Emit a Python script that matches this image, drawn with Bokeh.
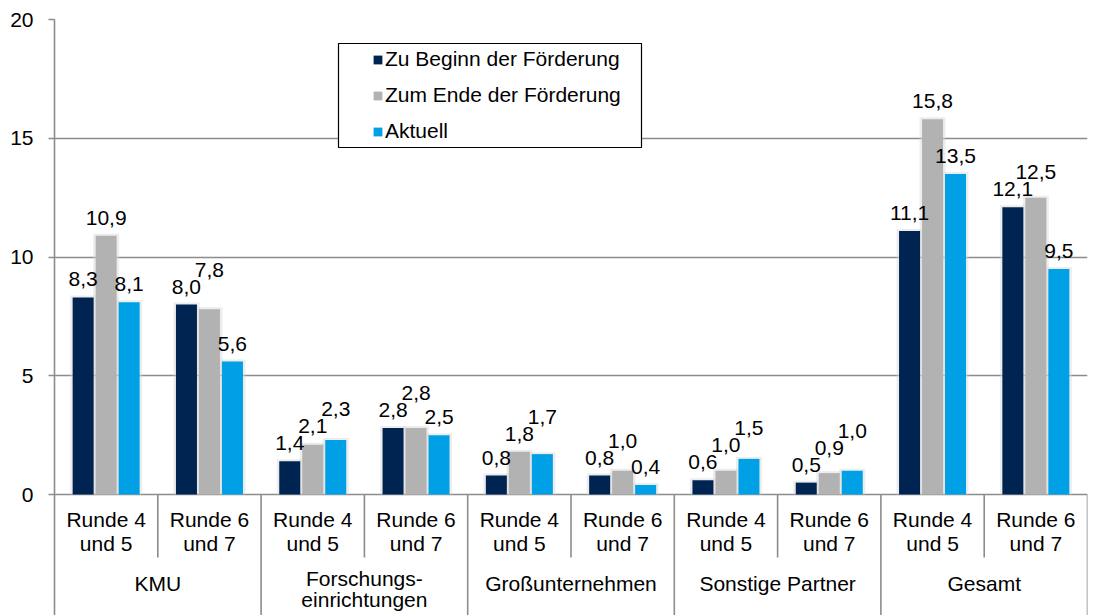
from bokeh.plotting import figure
from bokeh.models import Range1d, FixedTicker, Legend, LegendItem, BoxAnnotation
from bokeh.embed import file_html
from bokeh.resources import INLINE
from bokeh.core.properties import value

# ---------------- data ----------------
groups = ["KMU", "Forschungs-\neinrichtungen", "Großunternehmen", "Sonstige Partner", "Gesamt"]
rounds = ["Runde 4\nund 5", "Runde 6\nund 7"]
series = ["Zu Beginn der Förderung", "Zum Ende der Förderung", "Aktuell"]
beginn = [8.3, 8.0, 1.4, 2.8, 0.8, 0.8, 0.6, 0.5, 11.1, 12.1]
ende = [10.9, 7.8, 2.1, 2.8, 1.8, 1.0, 1.0, 0.9, 15.8, 12.5]
aktuell = [8.1, 5.6, 2.3, 2.5, 1.7, 0.4, 1.5, 1.0, 13.5, 9.5]
y_ticks = [0, 5, 10, 15, 20]

# ---------------- styling ----------------
colors = ["#002452", "#b2b2b2", "#00a0e6"]
GRID = "#8c8c8c"
FONT = "Liberation Sans"
FS = "21px"

W, H = 1093, 615
BL, BR, BT, BB = 54, 6, 19, 0
FW = W - BL - BR
FH = H - BT - BB
PXY = 23.75
n = len(groups) * len(rounds)
PXX = FW / n
y_start = y_ticks[-1] - FH / PXY


def dx(px):
    return px / PXX


def dy(px):
    return px / PXY


p = figure(width=W, height=H, x_range=Range1d(0, n), y_range=Range1d(y_start, y_ticks[-1]),
           output_backend="svg", toolbar_location=None, x_axis_location=None,
           min_border_left=BL, min_border_right=BR, min_border_top=BT, min_border_bottom=BB)
p.outline_line_color = None
p.background_fill_color = "white"
p.border_fill_color = "white"

# grid
p.xgrid.grid_line_color = None
p.ygrid.ticker = FixedTicker(ticks=y_ticks)
p.ygrid.grid_line_color = GRID
p.ygrid.grid_line_width = 1.6

# y axis
p.yaxis.ticker = FixedTicker(ticks=y_ticks)
p.yaxis.axis_line_color = GRID
p.yaxis.axis_line_width = 1.6
p.yaxis.major_tick_line_color = GRID
p.yaxis.major_tick_line_width = 1.6
p.yaxis.major_tick_out = 6
p.yaxis.major_tick_in = 0
p.yaxis.minor_tick_line_color = None
p.yaxis.major_label_standoff = 15
p.yaxis.major_label_text_font = FONT
p.yaxis.major_label_text_font_size = FS
p.yaxis.major_label_text_color = "black"

# ---------------- bars ----------------
vals = [beginn, ende, aktuell]
offsets = [-dx(23), 0.0, dx(23)]
bw = dx(21)
renderers = []
for j, v in enumerate(vals):
    xs = [i + 0.5 + offsets[j] for i in range(n)]
    p.vbar(x=xs, top=[t + dy(2) for t in v], bottom=0, width=bw + dx(5),
           fill_color="#d8d8d8", fill_alpha=0.45, line_color=None)
for j, v in enumerate(vals):
    xs = [i + 0.5 + offsets[j] for i in range(n)]
    r = p.vbar(x=xs, top=v, bottom=0, width=bw, fill_color=colors[j], line_color=None)
    renderers.append(r)

# ---------------- data labels ----------------
lx, ly, lt = [], [], []
for i in range(n):
    prev = None
    for j in range(3):
        v = vals[j][i]
        y = v + dy(18)
        if prev is not None and abs(y - prev) < dy(17):
            y = prev + dy(17)
        prev = y
        lx.append(i + 0.5 + offsets[j])
        ly.append(y)
        lt.append(f"{v:.1f}".replace(".", ","))
p.text(x=lx, y=ly, text=lt, text_font=value(FONT), text_font_size=FS, text_color="black",
       text_align="center", text_baseline="alphabetic")

# ---------------- category axis (drawn) ----------------
sub_x = [k for k in range(1, n + 1) if k % 2 == 1]
grp_x = [k for k in range(1, n + 1) if k % 2 == 0]
p.segment(x0=sub_x, x1=sub_x, y0=0, y1=-dy(63), line_color=GRID, line_width=1.6)
p.segment(x0=grp_x, x1=grp_x, y0=0, y1=y_start, line_color=GRID, line_width=1.6)

rx, ry, rt = [], [], []
for i in range(n):
    lines = rounds[i % len(rounds)].split("\n")
    for li, s in enumerate(lines):
        rx.append(i + 0.5)
        ry.append(-dy(25 + 24 * li))
        rt.append(s)
p.text(x=rx, y=ry, text=rt, text_font=value(FONT), text_font_size=FS, text_color="black",
       text_align="center", text_baseline="middle")

gx, gy, gt = [], [], []
for g, name in enumerate(groups):
    lines = name.split("\n")
    top = 89 if len(lines) == 1 else 84
    for li, s in enumerate(lines):
        gx.append(g * len(rounds) + len(rounds) / 2)
        gy.append(-dy(top + 21 * li))
        gt.append(s)
p.text(x=gx, y=gy, text=gt, text_font=value(FONT), text_font_size=FS, text_color="black",
       text_align="center", text_baseline="middle")

# ---------------- legend ----------------
box = BoxAnnotation(left=dx(338 - 54), right=dx(641 - 54), top=dy(494 - 43), bottom=dy(494 - 147),
                    fill_color="white", fill_alpha=1.0, line_color="black", line_width=1.2,
                    line_alpha=1.0)
p.add_layout(box)

legend = Legend(items=[LegendItem(label=s, renderers=[r]) for s, r in zip(series, renderers)],
                location=(318, 472), padding=0, margin=0, spacing=12, label_height=24,
                glyph_width=11, glyph_height=11, label_standoff=2,
                border_line_alpha=0, background_fill_alpha=0,
                label_text_font=FONT, label_text_font_size=FS, label_text_color="black")
p.add_layout(legend)

open("out.html", "w").write(file_html(p, INLINE))
